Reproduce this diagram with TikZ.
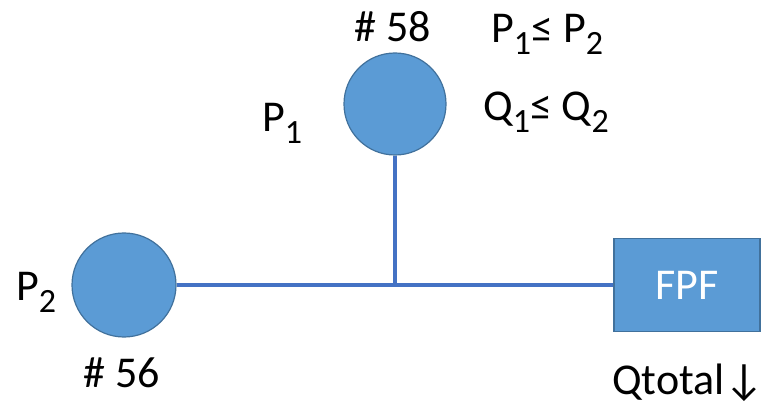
\documentclass[tikz,border=0pt]{standalone}
\usepackage{fontspec}
\setmainfont{Carlito}
\definecolor{pumpblue}{HTML}{5B9BD5}
\definecolor{rimblue}{HTML}{41719C}
\definecolor{pipeblue}{HTML}{4472C4}
\newcommand\idx[1]{\raisebox{-0.26em}{\fontsize{34}{40}\selectfont #1}}

\begin{document}
\begin{tikzpicture}[x=1pt,y=-1pt,
		pump/.style={circle, fill=pumpblue, draw=rimblue, line width=1.2pt, inner sep=0pt},
		fpfbox/.style={rectangle, fill=pumpblue, draw=rimblue, line width=1.2pt, minimum width=146pt, minimum height=93pt, text=white, font=\fontsize{44}{52}\selectfont},
		pipe/.style={pipeblue, line width=3.2pt},
		lbl/.style={inner sep=0pt, font=\fontsize{44}{52}\selectfont}]
	\useasboundingbox (0,0) rectangle (782,406);
	
	%%%%% pumps and filter %%%%%
	\node[pump, minimum size=102pt] (p58) at (395,104) {};
	\node[pump, minimum size=104pt] (p56) at (124,285) {};
	\node[fpfbox] (fpf) at (687,285) {FPF};
	\coordinate (tee) at (p58 |- p56);
	
	\draw[pipe] (p56.east) -- (fpf.west);
	\draw[pipe] (p58.south) -- (tee);
	
	%%%%% labels %%%%%
	\node[lbl, anchor=base] (n58) at (393,42) {\# 58};
	\node[lbl, anchor=base west] (p1) at (262,132) {P\idx{1}};
	\node[lbl, anchor=base west] (pcond) at (491,43) {P\idx{1}≤ P\idx{2}};
	\node[lbl, anchor=base west] (qcond) at (483,121) {Q\idx{1}≤ Q\idx{2}};
	\node[lbl, anchor=base west] (p2) at (16,301) {P\idx{2}};
	\node[lbl, anchor=base] (n56) at (122,387) {\# 56};
	\node[lbl, anchor=base west] (qtot) at (612,394) {Qtotal↓};
\end{tikzpicture}
\end{document}
